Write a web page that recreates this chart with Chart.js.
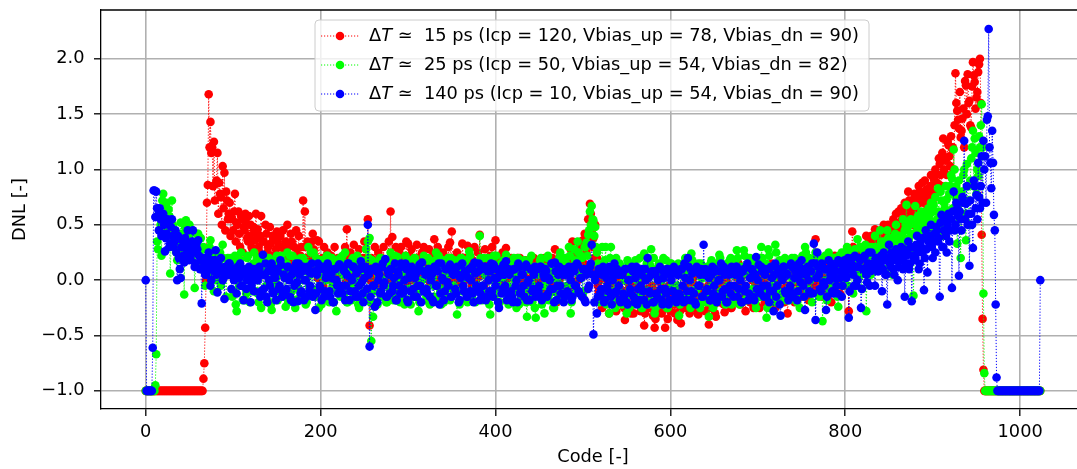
<!DOCTYPE html>
<html>
<head>
<meta charset="utf-8">
<script src="https://cdn.jsdelivr.net/npm/chart.js@4.4.1/dist/chart.umd.min.js"></script>
<style>
  html, body { margin: 0; padding: 0; overflow: hidden; background: #fff; }
</style>
</head>
<body>
<canvas id="dnlChart" width="1100" height="469"></canvas>
<script>
// ADC codes 0 .. 1023
const codes = Array.from({ length: 1024 }, (_, i) => i);

// DNL, split in even codes (0,2,4..) and odd codes (1,3,5..), 32 codes per row
const dnl15Even = [
  -1,-1,-1,-1,-1,-1,-1,-1,-1,-1,-1,-1,-1,-1,-1,-1,
  -1,-1,-1,-1,-1,-1,-1,-1,-1,-1,-1,-1,-1,-1,-1,-1,
  -1,-.89,-.43,.7,1.68,1.43,1.2,1.25,.87,1.15,.88,.75,1.03,.97,.8,.55,
  .7,.6,.45,.78,.52,.62,.3,.55,.48,.6,.38,.58,.5,.28,.45,.6,
  .46,.25,.58,.35,.2,.42,.3,.48,.22,.38,.15,.44,.3,.4,.18,.28,
  .35,.5,.2,.42,.12,.3,.45,.22,.18,.3,.72,.62,.1,.3,.2,.35,
  .28,.15,.36,.35,.05,.2,.3,.12,.25,.08,.22,.18,.3,.1,.2,.15,
  .2,.12,.3,.46,.15,.25,.05,.32,.18,.1,.28,.2,.14,.35,.08,.55,
  -.41,.2,.1,.3,.15,.25,.05,.2,.3,.12,.18,.35,.62,.39,.15,.3,
  .1,.25,.3,.05,.18,.35,.33,.22,.28,.08,.15,.32,.2,.1,.25,.3,
  .2,.1,.28,.05,.22,.37,.15,.3,.08,.2,.25,.12,.18,.3,.34,.44,
  .2,.1,.25,.15,.05,.33,.2,.12,.31,.22,.08,.18,.3,.1,.25,.41,
  .2,.1,.28,.15,.05,.22,.3,.12,.36,.2,.08,.18,.25,.1,.29,.15,
  .1,.2,.05,.15,-.05,.12,.2,0,.08,.18,-.1,.1,.15,.02,.2,.05,
  .1,.15,-.1,.05,.2,-.15,.08,.12,-.05,.18,.28,-.2,.1,.22,-.08,.15,
  .05,.18,-.1,.28,.35,.1,.22,0,.3,.15,.36,.42,.25,.55,.69,.45,
  .38,.5,.2,-.1,.05,-.25,.1,-.2,0,-.3,.08,-.15,-.05,-.28,.1,-.12,
  -.2,.05,-.36,-.1,.1,-.22,-.05,-.3,.05,-.18,-.08,-.28,0,-.41,-.15,.08,
  -.25,-.1,-.32,-.43,.05,-.2,-.12,-.3,.02,-.43,-.18,-.05,-.28,-.1,.08,-.22,
  -.36,-.15,-.39,-.05,-.25,.05,-.2,-.3,-.1,.02,-.22,-.12,-.31,-.05,.08,-.18,
  -.28,-.1,-.4,-.15,0,-.22,-.33,-.08,.05,-.2,-.12,-.29,0,-.15,-.05,-.25,
  .1,-.18,-.05,.15,-.22,-.1,.05,-.28,-.12,.08,-.2,0,-.15,.12,-.08,-.25,
  .05,-.12,-.2,.1,-.05,-.18,.15,-.1,-.25,.02,-.15,.08,-.08,-.2,.1,-.3,
  -.05,-.12,.12,-.2,0,-.1,.18,-.15,.05,-.08,.1,-.18,.02,.15,-.05,.37,
  .05,-.1,.12,-.15,.2,0,-.08,.15,-.2,.08,.22,-.05,.1,-.12,.18,.02,
  .1,-.05,-.28,.15,.44,.2,.05,.25,.12,.3,.08,.22,.4,.15,.28,.4,
  .2,.46,.3,.15,.38,.25,.5,.32,.47,.42,.39,.3,.48,.6,.35,.52,
  .65,.45,.7,.58,.8,.62,.72,.5,.75,.68,.85,.6,.88,.72,.8,.65,
  .78,.95,.7,.9,.96,.8,1.05,.85,1.28,1.1,.95,1.22,1.03,1.19,1.0,1.87,
  1.53,1.37,1.29,1.46,1.2,1.76,1.86,1.62,1.38,1.97,1.79,1.65,1.88,2.0,.41,-.81,
  -1,-1,-1,-1,-1,-1,-1,-1,-1,-1,-1,-1,-1,-1,-1,-1,
  -1,-1,-1,-1,-1,-1,-1,-1,-1,-1,-1,-1,-1,-1,-1,-1
];
const dnl15Odd = [
  -1,-1,-1,-1,-1,-1,-1,-1,-1,-1,-1,-1,-1,-1,-1,-1,
  -1,-1,-1,-1,-1,-1,-1,-1,-1,-1,-1,-1,-1,-1,-1,-1,
  -1,-.75,0,.86,1.2,1.15,.85,.72,.9,.6,.78,.5,.65,.45,.72,.6,
  .4,.55,.62,.35,.5,.42,.58,.25,.45,.52,.35,.4,.3,.48,.36,.42,
  .3,.4,.22,.35,.5,.25,.18,.33,.4,.12,.28,.35,.2,.3,.45,.22,
  .25,.3,.15,.35,.2,.1,.28,.4,.22,.15,.3,.2,.35,.12,.25,.42,
  .1,.18,.02,.15,.08,-.05,.2,.05,.12,.22,0,.1,.05,.18,-.05,.12,
  .05,.15,-.02,.1,.2,.02,.08,-.05,.15,.05,.12,0,.2,.08,.02,.15,
  0,.15,.05,-.05,.1,.2,.02,.12,-.02,.18,.05,.1,0,.2,.08,-.05,
  .1,.02,.15,.05,.2,-.02,.08,.12,0,.17,.05,-.05,.1,.2,.02,.08,
  .05,.12,-.02,.2,.02,.1,.15,0,.08,-.05,.18,.05,.12,0,.1,.2,
  .02,.15,.08,-.02,.12,.2,0,.1,.05,.18,-.05,.08,.12,.02,.1,.15,
  .05,-.05,.1,.15,0,.08,.02,.12,-.05,.05,.15,0,.1,-.02,.08,.02,
  .05,.15,.1,0,.2,.08,-.05,.12,.18,.02,.1,-.08,.15,.05,.12,-.02,
  0,.12,.05,.18,-.05,.1,.15,.02,.2,-.1,.08,.12,0,.15,.05,.1,
  .12,.2,.05,.15,.25,.18,.08,.28,.2,.32,.15,.3,.4,.35,.6,.3,
  .2,.1,-.05,0,-.15,.05,-.12,.1,-.2,.02,-.1,.05,-.22,-.08,0,-.15,
  -.1,-.25,0,-.15,-.05,-.3,-.1,.02,-.2,-.12,-.05,-.25,-.15,-.3,-.08,-.2,
  -.15,-.05,-.22,-.35,-.1,-.28,-.02,-.15,-.2,-.08,-.35,-.12,-.22,-.05,-.3,-.1,
  -.2,-.28,-.1,-.15,-.05,-.22,-.12,-.18,-.02,-.25,-.1,-.3,-.15,-.08,-.2,-.1,
  -.18,-.05,-.25,-.1,-.15,-.3,-.12,-.2,-.05,-.15,-.22,-.08,-.18,-.1,-.25,-.12,
  -.1,-.2,.02,-.12,-.08,-.18,-.05,-.15,.05,-.2,-.1,-.25,-.05,-.12,0,-.15,
  -.1,0,-.15,-.05,-.2,.05,-.12,-.08,-.15,-.02,-.1,-.18,.02,-.12,-.05,-.15,
  -.08,.05,-.1,-.02,-.15,.08,-.05,0,-.12,.1,-.05,.02,-.08,.05,.2,0,
  0,.08,-.05,.1,.02,-.1,.12,.05,-.02,.1,.15,0,.08,.12,-.05,.1,
  .15,.05,.2,.08,.3,.12,.22,.18,.1,.25,.15,.3,.2,.35,.22,.3,
  .35,.25,.4,.3,.45,.35,.28,.4,.5,.38,.45,.55,.4,.5,.62,.45,
  .55,.62,.5,.68,.72,.6,.65,.78,.7,.62,.8,.75,.7,.9,.82,.75,
  .85,.8,.92,1.0,.88,1.1,.95,1.15,1.0,1.08,1.25,1.12,1.3,1.2,1.4,1.6,
  1.45,1.7,1.35,1.55,1.8,1.5,1.6,1.4,1.75,1.85,1.55,1.7,1.95,1.6,-.35,-1,
  -1,-1,-1,-1,-1,-1,-1,-1,-1,-1,-1,-1,-1,-1,-1,-1,
  -1,-1,-1,-1,-1,-1,-1,-1,-1,-1,-1,-1,-1,-1,-1,-1
];

const dnl25Even = [
  -1,-1,-1,-1,-1,-1,-.67,.28,.45,.22,.78,.55,.7,.64,.06,.72,
  .4,.3,.18,.35,.52,.25,-.13,.54,.3,.5,.2,.35,-.07,.42,.42,.15,
  .1,.3,-.05,.2,.05,.36,.12,-.1,.25,.08,.15,-.05,.32,.1,-.15,.2,
  .05,.15,-.1,.22,-.28,.08,.18,-.05,.1,-.18,.2,0,.12,-.1,.25,.05,
  -.12,.15,-.25,.08,.2,-.05,.1,-.2,-.27,.15,0,.22,-.1,.05,.18,-.15,
  -.24,.25,.05,-.1,.22,.1,-.18,.15,0,-.12,.2,.08,-.2,.3,.05,-.08,
  .25,-.15,.1,-.25,.05,.18,-.1,0,.22,-.2,.1,-.05,.15,-.28,.08,.2,
  -.1,.05,.25,-.2,.1,-.05,.18,-.15,0,.22,-.25,.08,.12,-.1,.28,.35,
  .38,-.55,-.33,.1,-.1,.05,.2,-.15,0,.15,-.2,.08,.25,-.05,.12,-.18,
  .21,0,-.12,.15,-.22,.05,.18,-.08,.1,-.15,.2,-.05,-.28,.12,0,.22,
  -.1,.08,-.2,.15,.02,-.15,.25,-.05,.1,-.22,.18,-.08,.05,.2,-.18,.1,
  -.05,.15,-.31,.08,.2,-.1,.02,.18,-.2,.26,.05,-.12,.15,-.05,.1,.4,
  -.1,.2,.05,-.18,.12,-.31,0,.22,-.08,.1,-.2,.15,.02,-.12,.23,-.05,
  .1,-.2,.15,0,-.25,.2,.05,-.15,.1,-.08,-.33,.18,0,-.2,.12,-.34,
  .05,-.15,.2,-.05,-.3,.1,.22,-.12,.05,-.25,.15,0,-.18,.25,.08,-.1,
  .2,-.05,.3,-.3,.12,.28,-.1,.35,.05,.22,-.15,.3,.34,.41,.62,.67,
  .54,.48,.25,.1,-.15,.3,.05,.3,-.2,-.3,.3,.1,-.1,.2,-.05,.15,
  -.2,.1,0,-.3,.15,-.1,.05,-.22,.18,0,-.15,.1,-.25,.24,.05,-.1,
  .15,.28,-.18,-.3,.05,.12,-.2,0,.2,-.12,-.25,.08,.15,-.05,-.2,.1,
  -.05,-.32,.1,-.15,.05,.18,-.1,0,.24,-.2,.08,-.08,.15,-.25,.02,.12,
  -.15,.05,-.33,.15,-.05,.1,-.2,0,.23,-.1,.08,-.18,.12,-.05,.18,-.22,
  .05,.15,.27,-.1,.02,-.2,.27,.1,-.15,.05,.18,-.08,.12,-.25,0,.2,
  .3,-.1,.05,-.34,.28,.1,-.15,.02,.32,-.05,.15,-.2,.08,.18,-.1,.05,
  -.18,.12,0,.2,-.12,.1,-.25,.15,.05,.3,-.08,.18,0,-.2,.12,.25,
  .05,-.15,.18,-.37,.1,0,.22,-.1,.15,-.05,.2,.08,-.24,.12,.25,0,
  .15,.3,.05,.2,-.1,.25,.1,.37,.15,.05,.28,.2,-.28,.12,.3,.18,
  .29,.4,.15,.3,.45,.2,.35,.1,.45,.25,.38,.05,.3,.5,.2,.4,
  .35,.55,.45,.68,.3,.5,.25,-.14,.67,.45,.55,.3,.6,.4,.6,.5,
  .55,.7,.45,.62,.5,.83,.6,.72,.4,.65,.73,.55,.85,.92,1.18,.75,
  .33,.9,.2,.7,1.0,.36,.85,.5,1.1,1.35,1.28,.78,.94,1.2,1.59,-.12,
  -1,-1,-1,-1,-1,-1,-1,-1,-1,-1,-1,-1,-1,-1,-1,-1,
  -1,-1,-1,-1,-1,-1,-1,-1,-1,-1,-1,-1,-1,-1,-1,-1
];
const dnl25Odd = [
  -1,-1,-1,-1,-1,-.95,.35,.6,.5,.72,.6,.68,.45,.58,.3,.5,
  .45,.25,.38,.2,.42,.3,.48,.22,.4,.28,.45,.3,.15,.35,.25,.38,
  .2,.12,.28,.05,.3,.18,.1,.22,0,.18,.25,.05,.2,.12,.08,.15,
  .2,-.15,.12,-.22,.18,-.05,.25,-.18,.1,-.12,.22,-.2,.05,.15,-.1,.2,
  -.2,.15,-.1,.22,-.15,.08,.2,-.22,.12,-.05,.18,-.18,.05,.22,-.12,.1,
  .15,-.2,.22,-.1,.05,-.25,.18,-.08,.2,-.15,.1,-.22,.15,-.05,.25,-.12,
  -.15,.2,-.08,.18,-.22,.1,-.12,.22,-.18,.05,.2,-.2,.12,-.1,.18,-.15,
  .22,-.12,.15,-.2,.1,-.18,.2,-.05,.15,-.22,.08,.18,-.15,.12,-.1,.2,
  -.2,.18,-.1,.15,-.22,.05,.2,-.15,.12,-.2,.18,-.08,.1,-.18,.22,-.12,
  .15,-.2,.1,-.15,.22,-.08,.18,-.22,.05,.2,-.12,.15,-.2,.1,-.1,.18,
  -.15,.2,-.22,.1,-.05,.18,-.18,.22,-.1,.12,-.2,.05,.15,-.15,.2,-.08,
  .18,-.12,.05,-.22,.2,-.1,.15,-.18,.1,.22,-.15,.08,-.2,.15,-.05,.2,
  -.18,.12,-.1,.2,-.22,.08,.15,-.15,.22,-.05,-.2,.1,.18,-.12,.05,-.22,
  .12,-.18,.2,-.1,.05,-.22,.15,-.08,.18,-.2,.1,-.15,.22,-.05,-.25,.12,
  -.1,.18,-.22,.12,-.05,.2,-.18,.08,.15,-.25,.1,-.12,.2,-.05,.18,-.15,
  .15,-.12,.22,-.2,.1,.18,-.08,.25,.05,.2,-.1,.3,.22,.45,.5,.55,
  .4,.3,.15,-.2,.12,-.15,.18,-.22,.05,.2,-.18,.1,-.25,.15,-.1,.12,
  -.22,.1,-.15,.18,-.25,.05,.12,-.2,.08,-.15,.2,-.25,.1,-.1,.15,-.22,
  .12,-.18,.2,-.25,.05,.15,-.22,.1,-.12,.18,-.25,.05,.15,-.2,.08,-.15,
  .15,-.22,.1,-.18,.2,-.12,.05,-.25,.18,-.1,.12,-.22,.08,.15,-.18,.05,
  -.2,.12,-.15,.18,-.25,.08,.15,-.18,.2,-.1,.05,-.22,.15,-.12,.2,-.2,
  .1,-.15,.2,-.22,.12,-.08,.22,-.18,.05,.2,-.12,.15,-.2,.1,.18,-.15,
  .2,-.12,.15,-.25,.22,-.05,.12,-.2,.25,-.1,.18,-.15,.08,.2,-.18,.12,
  -.15,.2,-.1,.18,-.2,.15,-.05,.22,-.15,.25,-.08,.2,-.12,.15,.05,.22,
  .15,-.12,.2,-.05,.22,-.18,.25,.05,-.1,.2,.12,-.15,.22,.08,-.05,.25,
  .18,-.05,.25,.1,-.12,.28,.15,.05,.3,-.08,.22,.32,.1,.25,.05,.3,
  .2,.3,.25,.15,.35,.28,.2,.32,.38,.25,.2,.35,.42,.3,.38,.28,
  .4,.35,.5,.45,.38,.55,.42,.3,.5,.58,.45,.62,.5,.55,.48,.65,
  .6,.52,.68,.75,.55,.62,.8,.5,.7,.85,.6,.78,.95,.65,1.0,.85,
  .7,.55,.8,.95,.6,1.05,.72,.9,1.2,.85,1.15,1.0,1.3,1.4,1.2,-.84,
  -1,-1,-1,-1,-1,-1,-1,-1,-1,-1,-1,-1,-1,-1,-1,-1,
  -1,-1,-1,-1,-1,-1,-1,-1,-1,-1,-1,-1,-1,-1,-1,-1
];

const dnl140Even = [
  0,-1,-1,-1,-.61,.81,.8,.58,.65,.4,.6,.26,.42,.52,.33,.55,
  .3,.45,0,.2,.02,.36,.16,.33,.45,.18,.28,.45,.12,.33,.36,.1,
  -.21,.2,.05,.15,.25,-.05,.18,.08,.27,-.11,.1,.2,0,-.17,.12,.05,
  .15,-.08,.1,.02,-.12,.06,.15,-.05,-.18,.08,0,.12,-.2,.05,-.1,.1,
  0,.12,-.1,.23,.05,-.15,.08,-.05,.15,-.12,.02,.1,-.08,.18,-.15,.05,
  -.1,.12,0,-.18,.1,-.05,.15,-.19,.05,-.1,.12,0,-.15,.08,-.05,.15,
  -.12,-.27,.05,.1,-.08,.12,-.15,.02,.15,-.1,.05,-.2,.1,0,-.12,.14,
  -.05,.1,-.18,.05,.15,-.1,0,.12,-.15,.08,-.05,.17,-.12,.02,.1,.5,
  -.6,.1,-.05,-.24,.08,0,-.12,.12,-.05,.19,-.15,.05,.1,-.1,.02,-.18,
  .08,-.05,.15,-.12,0,.1,-.2,.05,.12,-.08,.02,-.15,.1,-.05,.16,-.1,
  .05,-.12,.1,0,-.18,.12,-.05,.08,-.22,.15,0,-.1,.1,-.05,.14,-.15,
  .05,-.08,.12,-.2,.02,.15,-.1,.05,-.15,.1,0,-.12,.16,-.05,.08,-.18,
  .1,-.05,.12,-.15,0,.08,-.1,.14,-.05,.02,-.25,.1,-.08,.05,.17,-.12,
  .05,-.1,-.2,.1,0,.15,-.12,.05,-.05,.12,-.18,0,.1,-.1,.05,-.15,
  .1,-.05,.12,-.15,.02,.08,-.12,0,.15,-.08,.16,-.18,.05,-.05,.1,-.2,
  .05,-.1,.12,0,-.15,.08,-.05,.14,-.12,.02,.1,-.18,.05,-.08,.12,.32,
  -.49,0,-.3,.1,-.12,.05,-.2,.08,-.05,.12,-.15,0,.15,-.1,.05,-.18,
  .05,-.12,.1,-.2,0,-.08,.12,-.15,.02,-.22,.08,-.05,.1,-.18,0,.2,
  -.1,.05,-.2,.08,-.12,0,.12,-.18,.02,-.08,.1,-.22,.05,-.1,.12,-.15,
  .05,-.12,.1,-.05,.15,-.18,.2,0,-.1,.08,-.2,.12,-.05,.05,-.15,.32,
  .1,-.08,.02,-.18,.12,-.05,.08,-.15,0,.15,-.1,.05,-.2,.1,-.05,.12,
  -.15,.05,.12,-.08,0,-.2,.1,-.05,.15,-.12,.02,.08,-.18,.21,0,-.1,
  .12,-.05,.05,-.15,.1,-.1,.02,-.28,.15,-.05,.08,-.32,0,.12,-.12,.05,
  -.08,.15,-.15,.02,.1,-.1,.05,.18,-.05,-.27,.1,0,-.12,.15,.33,-.36,
  .25,.05,-.1,.12,-.05,-.27,.1,0,.15,-.12,.08,-.05,.18,.02,-.15,.1,
  .05,.15,-.34,.1,.2,-.05,.12,0,.2,-.25,.1,.22,.05,.15,-.05,.25,
  .1,-.05,.2,.08,.15,-.1,.25,.05,-.22,.32,.12,.2,.05,.28,0,.18,
  .3,.1,-.15,.22,.35,.15,-.19,.3,.2,.4,.1,.35,.25,-.09,.45,.07,
  .3,.5,.2,.42,.48,.35,-.15,.59,.3,.55,.25,.6,.45,-.07,.8,.5,
  .65,.04,.55,.75,1.26,.69,.5,.13,.6,.29,.85,.77,1.06,.65,1.12,1.26,
  1.12,1.45,2.27,1.06,1.35,.59,-.22,-1,-1,-1,-1,-1,-1,-1,-1,-1,
  -1,-1,-1,-1,-1,-1,-1,-1,-1,-1,-1,-1,-1,-1,-1,-1
];
const dnl140Odd = [
  -1,-1,-1,-1,.81,.57,.65,.45,.55,.42,.5,.38,.55,.3,.48,.4,
  .35,.25,.4,.1,.3,.22,.38,.25,.3,.2,.35,.25,.15,.28,.22,.18,
  .1,.15,.05,.2,.1,0,.12,.18,.05,.15,.08,.1,.02,.12,.05,.15,
  .05,.1,0,.08,.12,.02,-.05,.1,.05,-.08,.08,.02,-.05,.1,0,.05,
  .1,-.15,.05,-.08,.15,-.2,0,.12,-.1,.05,-.18,.08,-.05,.14,-.12,.02,
  -.08,.12,-.15,.05,-.2,.1,-.02,.15,-.12,.08,-.18,0,.12,-.1,.06,-.15,
  .08,-.12,.15,-.05,-.18,.1,-.1,.05,.12,-.15,.02,-.2,.1,-.05,.14,-.1,
  -.12,.08,-.05,.15,-.18,.02,.12,-.1,.06,-.15,.1,-.02,-.2,.12,-.08,.05,
  -.15,.1,-.05,.12,-.2,.05,-.1,.15,-.02,-.15,.08,-.12,.1,-.05,.15,-.18,
  .05,-.12,.12,-.08,.15,-.18,.02,-.1,.1,-.15,.06,-.05,.14,-.2,.08,-.1,
  -.08,.1,-.15,.05,-.2,.12,-.05,.15,-.12,.02,-.18,.1,-.02,.12,-.15,.06,
  .1,-.12,.05,-.18,.14,-.05,.08,-.15,.02,-.1,.12,-.2,.06,-.08,.15,-.12,
  -.05,.12,-.18,.08,-.1,.15,-.15,.02,.1,-.2,.05,-.12,.14,-.05,-.18,.1,
  .08,-.15,.1,-.05,-.2,.12,-.1,.05,-.15,.14,-.02,-.18,.1,-.08,.12,-.12,
  -.1,.12,-.18,.05,.1,-.15,.02,-.08,.15,-.2,.08,-.05,.12,-.12,.05,-.15,
  .1,-.12,.05,-.18,.12,-.05,.15,-.1,.02,-.15,.1,-.2,.08,-.05,.15,.05,
  -.2,.05,-.15,.1,-.08,.12,-.18,.02,-.1,.08,-.22,.05,-.12,.1,-.05,-.2,
  .05,-.15,.1,-.22,0,-.12,.08,-.2,.12,-.08,-.18,.05,-.1,.1,-.22,.02,
  -.12,.08,-.2,.05,-.15,.1,-.08,-.22,.06,-.12,.1,-.18,0,-.1,.08,-.2,
  .05,-.15,.1,-.2,.02,-.1,.12,-.18,.06,-.12,-.22,.08,-.05,.1,-.15,.05,
  -.1,.08,-.18,.05,-.12,.1,-.2,0,.08,-.15,.12,-.08,-.2,.05,-.12,.1,
  -.05,.12,-.15,.05,-.2,.08,-.1,.12,-.18,.02,.1,-.15,.05,-.08,.14,-.12,
  .08,-.15,.1,-.05,-.2,.12,-.1,.05,-.15,.1,-.22,.04,.12,-.1,.06,-.18,
  -.05,.12,-.12,.08,-.18,.15,-.02,.1,-.15,.05,.12,-.1,.08,-.12,.15,.02,
  .12,-.08,.15,-.02,.1,-.15,.18,.05,-.1,.12,.02,-.12,.15,.08,-.05,.18,
  .02,.2,-.1,.15,.05,.22,-.05,.12,.18,-.08,.2,.1,-.02,.25,.08,.15,
  .12,.2,.08,.15,.22,.1,.18,.05,.2,.15,.25,.1,.18,.22,.12,.25,
  .2,.28,.15,.25,.1,.3,.22,.18,.32,.25,.15,.3,.38,.2,.28,.35,
  .4,.3,.35,.25,.45,.38,.52,.3,.45,.4,.5,.35,.55,.62,.45,.7,
  .58,.62,.45,.7,.55,.85,.6,.72,.5,.9,.65,.55,.75,.85,.7,1.0,
  .7,1.48,1.2,.83,1.06,.45,-.88,-1,-1,-1,-1,-1,-1,-1,-1,-1,
  -1,-1,-1,-1,-1,-1,-1,-1,-1,-1,-1,-1,-1,-1,-1,0
];

const seriesNames = [
  ' \u2243  15 ps (Icp = 120, Vbias_up = 78, Vbias_dn = 90)',
  ' \u2243  25 ps (Icp = 50, Vbias_up = 54, Vbias_dn = 82)',
  ' \u2243  140 ps (Icp = 10, Vbias_up = 54, Vbias_dn = 90)'
];
const xTicks = [0, 200, 400, 600, 800, 1000];
const yTicks = [-1, -0.5, 0, 0.5, 1, 1.5, 2];

const FONT = 'DejaVu Sans';
const FSIZE = 17.8;
Chart.defaults.font.family = FONT;
Chart.defaults.font.size = FSIZE;
Chart.defaults.color = '#000';

function series(label, even, odd, color, order) {
  return {
    label: label,
    data: codes.map(c => ({ x: c, y: c % 2 ? odd[(c - 1) / 2] : even[c / 2] })),
    borderColor: color,
    backgroundColor: color,
    pointBackgroundColor: color,
    pointBorderWidth: 0,
    pointRadius: 4.3,
    borderWidth: 1,
    borderDash: [1.2, 1.8],
    showLine: true,
    order: order
  };
}

// top/right spine + matplotlib style legend
const decorations = {
  id: 'decorations',
  afterDraw(chart) {
    const ctx = chart.ctx;
    const a = chart.chartArea;
    ctx.save();
    ctx.strokeStyle = '#000';
    ctx.lineWidth = 1.3;
    ctx.beginPath();
    ctx.moveTo(a.left, a.top);
    ctx.lineTo(a.right, a.top);
    ctx.lineTo(a.right, a.bottom);
    ctx.stroke();

    // legend box
    const bx = 315, by = 20, bw = 554, bh = 91;
    ctx.beginPath();
    ctx.roundRect(bx, by, bw, bh, 4);
    ctx.fillStyle = 'rgba(255,255,255,0.8)';
    ctx.fill();
    ctx.strokeStyle = '#cccccc';
    ctx.lineWidth = 1;
    ctx.stroke();

    const rows = [36, 65, 94];
    chart.data.datasets.forEach((ds, i) => {
      const y = rows[i];
      ctx.strokeStyle = ds.borderColor;
      ctx.lineWidth = 1;
      ctx.setLineDash([1.2, 1.8]);
      ctx.beginPath();
      ctx.moveTo(321, y);
      ctx.lineTo(360, y);
      ctx.stroke();
      ctx.setLineDash([]);
      ctx.fillStyle = ds.borderColor;
      ctx.beginPath();
      ctx.arc(340, y, 4.3, 0, Math.PI * 2);
      ctx.fill();

      ctx.fillStyle = '#000';
      ctx.textBaseline = 'middle';
      let x = 369;
      ctx.font = FSIZE + 'px "' + FONT + '"';
      ctx.fillText('\u0394', x, y);
      x += ctx.measureText('\u0394').width;
      ctx.font = 'italic ' + FSIZE + 'px "' + FONT + '"';
      ctx.fillText('T', x, y);
      x += ctx.measureText('T').width;
      ctx.font = FSIZE + 'px "' + FONT + '"';
      ctx.fillText(seriesNames[i], x, y);
    });
    ctx.restore();
  }
};

const gridStyle = {
  color: '#b0b0b0',
  lineWidth: 1.6,
  tickColor: '#000',
  tickLength: 7,
  tickWidth: 1.3
};

function noPad(s) {
  s.paddingTop = 0; s.paddingBottom = 0; s.paddingLeft = 0; s.paddingRight = 0;
}

new Chart(document.getElementById('dnlChart'), {
  type: 'scatter',
  data: {
    datasets: [
      series('15 ps', dnl15Even, dnl15Odd, '#ff0000', 3),
      series('25 ps', dnl25Even, dnl25Odd, '#00ff00', 2),
      series('140 ps', dnl140Even, dnl140Odd, '#0000ff', 1)
    ]
  },
  options: {
    responsive: false,
    animation: false,
    events: [],
    layout: { padding: { left: 0, top: 10, right: 15, bottom: 0 } },
    plugins: {
      legend: { display: false },
      tooltip: { enabled: false }
    },
    scales: {
      x: {
        type: 'linear',
        min: -51.15,
        max: 1074.15,
        afterBuildTicks: s => { s.ticks = xTicks.map(v => ({ value: v })); },
        afterFit: s => { s.height = 60; noPad(s); },
        ticks: { padding: 6, callback: v => String(v), maxRotation: 0 },
        grid: gridStyle,
        border: { color: '#000', width: 1.3 },
        title: { display: true, text: 'Code [-]', padding: { top: 0, bottom: 0.5 } }
      },
      y: {
        type: 'linear',
        min: -1.164,
        max: 2.441,
        afterBuildTicks: s => { s.ticks = yTicks.map(v => ({ value: v })); },
        afterFit: s => { s.width = 101; noPad(s); },
        ticks: { padding: 9.5, callback: v => v.toFixed(1).replace('-', '\u2212') },
        grid: gridStyle,
        border: { color: '#000', width: 1.3 },
        title: { display: true, text: 'DNL [-]', padding: { top: 10, bottom: 0 } }
      }
    }
  },
  plugins: [decorations]
});
</script>
</body>
</html>
